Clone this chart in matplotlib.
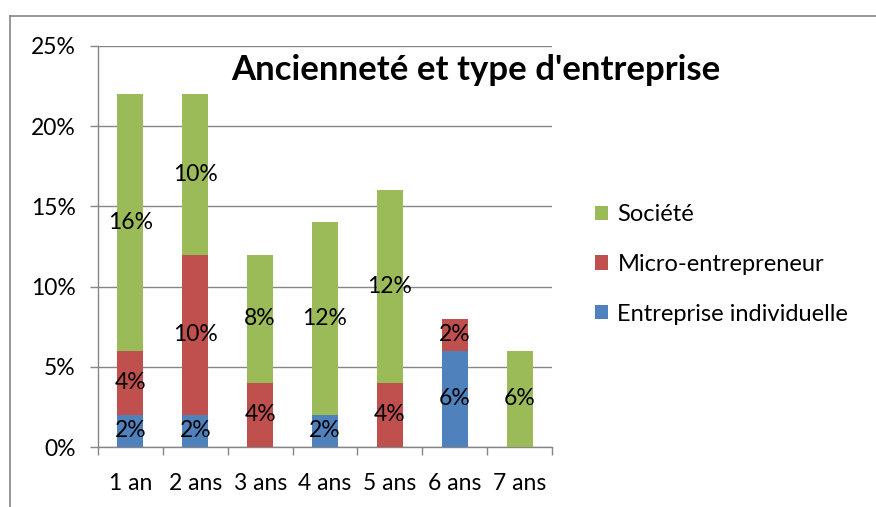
import matplotlib.pyplot as plt
from matplotlib.lines import Line2D
import numpy as np

plt.rcParams['font.family'] = ['Lato', 'DejaVu Sans']

categories = ["1 an", "2 ans", "3 ans", "4 ans", "5 ans", "6 ans", "7 ans"]
entreprise_indiv = [2, 2, 0, 2, 0, 6, 0]
micro_entrepreneur = [4, 10, 4, 0, 4, 2, 0]
societe = [16, 10, 8, 12, 12, 0, 6]

series = [
    ("Entreprise individuelle", entreprise_indiv, "#4F81BD"),
    ("Micro-entrepreneur", micro_entrepreneur, "#C0504D"),
    ("Société", societe, "#9BBB59"),
]

fig = plt.figure(figsize=(8.76, 5.07), dpi=100)
ax = fig.add_axes([98 / 876, 1 - 447 / 507, (552 - 98) / 876, (447 - 46) / 507])

x = np.arange(len(categories))
bottom = np.zeros(len(categories))
handles = []
for name, vals, color in series:
    vals = np.array(vals, dtype=float)
    bars = ax.bar(x, vals, width=0.4, bottom=bottom, color=color, label=name, zorder=3)
    handles.append(bars)
    for xi, b, v in zip(x, bottom, vals):
        if v > 0:
            ax.text(xi, b + v / 2, f"{v:.0f}%", ha="center", va="center",
                    fontsize=16.5, color="black", zorder=4)
    bottom += vals

ax.set_xlim(-0.5, len(categories) - 0.5)
ax.set_ylim(0, 25)
ax.set_yticks(range(0, 26, 5))
ax.set_yticklabels([f"{v}%" for v in range(0, 26, 5)], fontsize=16.5)
ax.set_xticks(x)
ax.set_xticklabels(categories, fontsize=16.5)
ax.set_xticks(np.arange(-0.5, len(categories), 1), minor=True)
ax.tick_params(axis="x", which="major", length=0, pad=19)
ax.tick_params(axis="x", which="minor", length=6, color="#868686", width=1)
ax.tick_params(axis="y", length=6, color="#868686", width=1, pad=10)
ax.grid(axis="y", color="#868686", linewidth=1, zorder=0)
for s in ["top", "right"]:
    ax.spines[s].set_visible(False)
for s in ["left", "bottom"]:
    ax.spines[s].set_color("#868686")
    ax.spines[s].set_linewidth(1)

fig.text(476 / 876, 1 - 70 / 507, "Ancienneté et type d'entreprise",
         ha="center", va="center", fontsize=25, fontweight="bold")

fig.legend(handles[::-1], [s[0] for s in series][::-1], loc="upper left",
           bbox_to_anchor=(595 / 876, 1 - 204 / 507), frameon=False,
           fontsize=17, handlelength=0.55, handleheight=0.55, labelspacing=1.22,
           handletextpad=0.4, borderaxespad=0, borderpad=0)

# outer chart border (partially cropped in the original)
fig.add_artist(Line2D([10 / 876, 1], [1 - 16 / 507, 1 - 16 / 507],
                      transform=fig.transFigure, color="#868686", linewidth=1.2))
fig.add_artist(Line2D([10 / 876, 10 / 876], [0, 1 - 16 / 507],
                      transform=fig.transFigure, color="#868686", linewidth=1.2))

fig.savefig("out.png", dpi=100)
